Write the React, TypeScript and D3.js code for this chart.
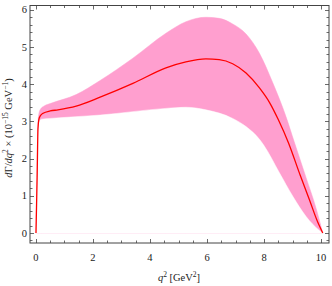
import React from "react";
import * as d3 from "d3";

const centralQ = [0, 0.04, 0.07, 0.1, 0.15, 0.25, 0.5, 0.77, 1.41, 2.25, 3.4, 4.56, 5.26, 5.96, 6.43, 6.9, 7.37, 7.84, 8.2, 8.5, 8.86, 9.27, 9.59, 9.88, 10.06];
const centralV = [0, 1.5, 2.8, 3.05, 3.15, 3.22, 3.28, 3.31, 3.41, 3.65, 4.02, 4.44, 4.6, 4.68, 4.66, 4.55, 4.3, 3.9, 3.5, 3.05, 2.42, 1.55, 0.9, 0.3, 0];

const upperQ = [0, 0.04, 0.07, 0.1, 0.15, 0.3, 0.5, 1.41, 2.25, 3.4, 4.56, 5.26, 5.96, 6.43, 6.9, 7.37, 7.84, 8.3, 8.77, 9.06, 9.47, 9.82, 10.06];
const upperV = [0, 1.6, 2.95, 3.2, 3.32, 3.42, 3.48, 3.72, 4.1, 4.7, 5.37, 5.68, 5.8, 5.77, 5.62, 5.35, 4.83, 4.05, 3.13, 2.45, 1.5, 0.68, 0];

const lowerQ = [0, 0.04, 0.07, 0.1, 0.2, 0.5, 2.25, 4.56, 5.26, 5.96, 6.9, 7.37, 7.84, 8.0, 8.54, 9.0, 9.47, 9.94, 10.06];
const lowerV = [0, 1.4, 2.7, 2.98, 3.06, 3.08, 3.17, 3.35, 3.38, 3.31, 3.08, 2.86, 2.52, 2.35, 1.62, 1.0, 0.45, 0.07, 0];

const xTicks = [0, 2, 4, 6, 8, 10];
const yTicks = [0, 1, 2, 3, 4, 5, 6];

export default function App() {
  const W = 332, H = 286;
  const L = 30, R = 329, T = 5.5, B = 243;
  const x = d3.scaleLinear().domain([-0.21, 10.28]).range([L, R]);
  const y = d3.scaleLinear().domain([-0.269, 6.116]).range([B, T]);

  const line = d3.line<[number, number]>()
    .x(d => x(d[0])).y(d => y(d[1]))
    .curve(d3.curveMonotoneX);
  const area = d3.area<[number, number]>()
    .x(d => x(d[0])).y1(d => y(d[1])).y0(y(0))
    .curve(d3.curveMonotoneX);

  const central: [number, number][] = centralQ.map((q, i) => [q, centralV[i]]);
  const upper: [number, number][] = upperQ.map((q, i) => [q, upperV[i]]);
  const lower: [number, number][] = lowerQ.map((q, i) => [q, lowerV[i]]);

  const xMinor = d3.range(0, 10.26, 0.5);
  const yMinor = d3.range(-0.2, 6.11, 0.2);
  const axisColor = "#444";
  const font = "'Liberation Serif', 'DejaVu Serif', serif";

  return (
    <svg width={W} height={H} style={{ position: "absolute", left: 0, top: 0 }} fontFamily={font}>
      <rect x={0} y={0} width={W} height={H} fill="#fff" />
      <path d={area(upper) || ""} fill="#ff9fcf" stroke="#ff9fcf" strokeWidth={0.5} />
      <path d={area(lower) || ""} fill="#fff" stroke="#fff" strokeWidth={0.5} />
      <path d={line(central) || ""} fill="none" stroke="#ff0000" strokeWidth={1.3} />
      {xMinor.map((q, i) => {
        const major = Math.abs(q - Math.round(q / 2) * 2) < 1e-6;
        const len = major ? 4 : 2.5;
        const px = Math.round(x(q)) + 0.5;
        return (
          <g key={"xt" + i} stroke={axisColor} strokeWidth={0.8}>
            <line x1={px} x2={px} y1={B} y2={B - len} />
            <line x1={px} x2={px} y1={T} y2={T + len} />
          </g>
        );
      })}
      {yMinor.map((v, i) => {
        const major = Math.abs(v - Math.round(v)) < 1e-6;
        const len = major ? 4 : 2.5;
        const py = Math.round(y(v)) + 0.5;
        return (
          <g key={"yt" + i} stroke={axisColor} strokeWidth={0.8}>
            <line x1={L} x2={L + len} y1={py} y2={py} />
            <line x1={R} x2={R - len} y1={py} y2={py} />
          </g>
        );
      })}
      <rect x={L} y={T} width={R - L} height={B - T} fill="none" stroke={axisColor} strokeWidth={1} />
      {xTicks.map(t => (
        <text key={"xl" + t} x={x(t)} y={261} textAnchor="middle" fontSize={10.5} fill="#222">{t}</text>
      ))}
      {yTicks.map(t => (
        <text key={"yl" + t} x={27} y={y(t) + 3.6} textAnchor="end" fontSize={10.5} fill="#222">{t}</text>
      ))}
      <text x={179} y={281} textAnchor="middle" fontSize={10.5} fill="#222">
        <tspan fontStyle="italic">q</tspan>
        <tspan fontSize={7.5} dy={-4}>2</tspan>
        <tspan dy={4}> [GeV</tspan>
        <tspan fontSize={7.5} dy={-4}>2</tspan>
        <tspan dy={4}>]</tspan>
      </text>
      <text transform="translate(12,128) rotate(-90)" textAnchor="middle" fontSize={10.5} fill="#222">
        <tspan fontStyle="italic">d</tspan>
        <tspan>Γ/</tspan>
        <tspan fontStyle="italic">dq</tspan>
        <tspan fontSize={7.5} dy={-4}>2</tspan>
        <tspan dy={4}> × (10</tspan>
        <tspan fontSize={7.5} dy={-4}>−15</tspan>
        <tspan dy={4}> GeV</tspan>
        <tspan fontSize={7.5} dy={-4}>−1</tspan>
        <tspan dy={4}>)</tspan>
      </text>
    </svg>
  );
}
